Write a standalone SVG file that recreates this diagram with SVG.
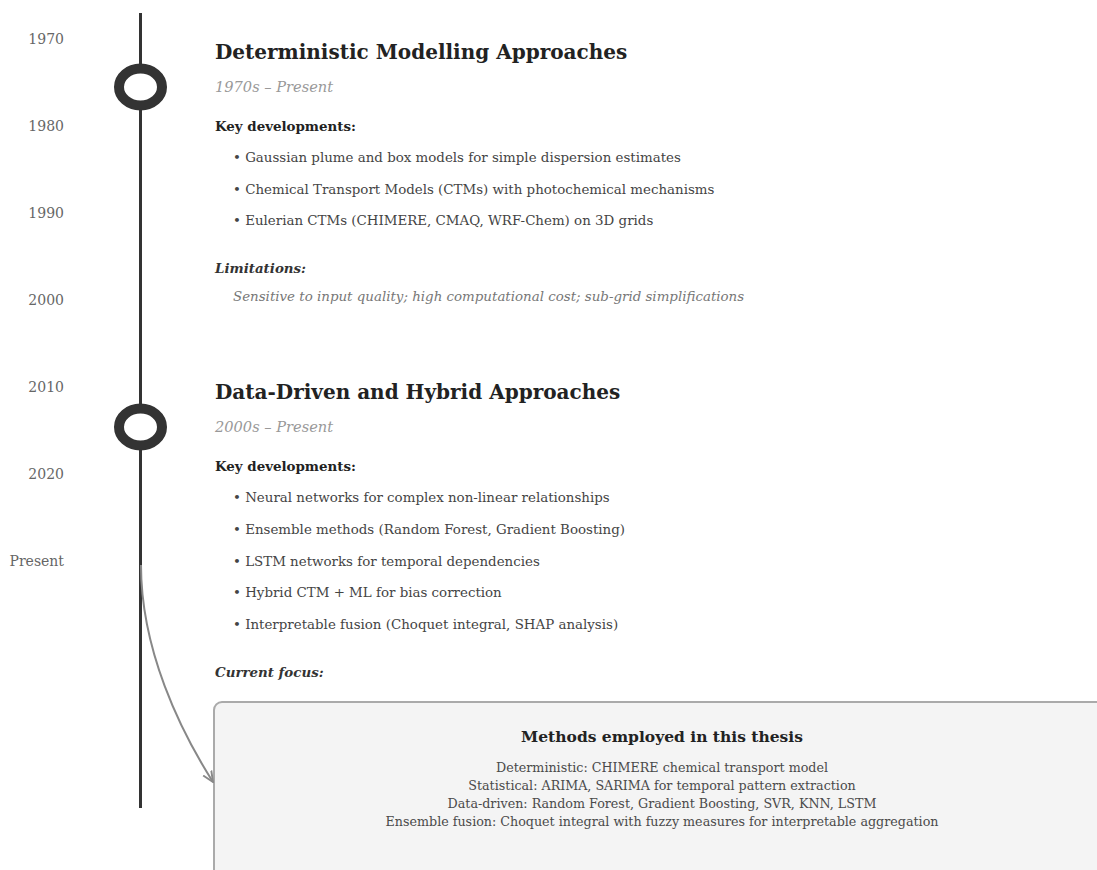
<svg xmlns="http://www.w3.org/2000/svg" width="1097" height="870" viewBox="0 0 1097 870">
  <style>
    text { font-family: "DejaVu Serif", "Liberation Serif", serif; }
    .year { font-size: 14px; fill: #666; text-anchor: end; }
    .title { font-size: 20px; font-weight: bold; fill: #222; }
    .period { font-size: 14.6px; font-style: italic; fill: #999; }
    .label { font-size: 13.4px; font-weight: bold; fill: #222; }
    .label-it { font-size: 13.4px; font-weight: bold; font-style: italic; fill: #333; }
    .item { font-size: 13.4px; fill: #444; }
    .note { font-size: 13.4px; font-style: italic; fill: #777; }
    .marker-ring { fill: #fff; stroke: #333; stroke-width: 10; }
    .axis { stroke: #333; stroke-width: 3; }
    .link { fill: none; stroke: #888; stroke-width: 2; }
    .box { fill: #f4f4f4; stroke: #aaa; stroke-width: 2; }
    .box-title { font-size: 15.5px; font-weight: bold; fill: #222; text-anchor: middle; }
    .box-line { font-size: 12.7px; fill: #4a4a4a; text-anchor: middle; }
  </style>
  <defs>
    <marker id="arrow" viewBox="0 0 10 10" refX="9" refY="5" markerWidth="6" markerHeight="6" orient="auto">
      <path d="M0,1 L9,5 L0,9" fill="none" stroke="#888" stroke-width="1.6"/>
    </marker>
  </defs>

  <rect width="1097" height="870" fill="#fff"/>

  <!-- time axis with year ticks -->
  <g id="axis">
    <line class="axis" x1="140.5" y1="13" x2="140.5" y2="808"/>
    <text class="year" x="64" y="44">1970</text>
    <text class="year" x="64" y="131">1980</text>
    <text class="year" x="64" y="218">1990</text>
    <text class="year" x="64" y="305">2000</text>
    <text class="year" x="64" y="392">2010</text>
    <text class="year" x="64" y="479">2020</text>
    <text class="year" x="64" y="566">Present</text>
  </g>

  <!-- era 1: deterministic models -->
  <g id="era-deterministic">
    <ellipse class="marker-ring" cx="140.5" cy="87" rx="21.5" ry="18.5"/>
    <text class="title" x="215" y="59">Deterministic Modelling Approaches</text>
    <text class="period" x="215" y="92">1970s – Present</text>
    <text class="label" x="215" y="131">Key developments:</text>
    <text class="item" x="233" y="162">• Gaussian plume and box models for simple dispersion estimates</text>
    <text class="item" x="233" y="194">• Chemical Transport Models (CTMs) with photochemical mechanisms</text>
    <text class="item" x="233" y="225">• Eulerian CTMs (CHIMERE, CMAQ, WRF-Chem) on 3D grids</text>
    <text class="label-it" x="215" y="273">Limitations:</text>
    <text class="note" x="233" y="301">Sensitive to input quality; high computational cost; sub-grid simplifications</text>
  </g>

  <!-- era 2: data-driven and hybrid models -->
  <g id="era-datadriven">
    <ellipse class="marker-ring" cx="140.5" cy="427" rx="21.5" ry="18.5"/>
    <text class="title" x="215" y="399">Data-Driven and Hybrid Approaches</text>
    <text class="period" x="215" y="432">2000s – Present</text>
    <text class="label" x="215" y="471">Key developments:</text>
    <text class="item" x="233" y="502">• Neural networks for complex non-linear relationships</text>
    <text class="item" x="233" y="534">• Ensemble methods (Random Forest, Gradient Boosting)</text>
    <text class="item" x="233" y="566">• LSTM networks for temporal dependencies</text>
    <text class="item" x="233" y="597">• Hybrid CTM + ML for bias correction</text>
    <text class="item" x="233" y="629">• Interpretable fusion (Choquet integral, SHAP analysis)</text>
    <text class="label-it" x="215" y="677">Current focus:</text>
  </g>

  <!-- methods summary box -->
  <g id="methods-box">
    <rect class="box" x="214" y="702" width="900" height="200" rx="8"/>
    <text class="box-title" x="662" y="742">Methods employed in this thesis</text>
    <text class="box-line" x="662" y="772">Deterministic: CHIMERE chemical transport model</text>
    <text class="box-line" x="662" y="790">Statistical: ARIMA, SARIMA for temporal pattern extraction</text>
    <text class="box-line" x="662" y="808">Data-driven: Random Forest, Gradient Boosting, SVR, KNN, LSTM</text>
    <text class="box-line" x="662" y="826">Ensemble fusion: Choquet integral with fuzzy measures for interpretable aggregation</text>
  </g>

  <!-- connectors -->
  <g id="connectors">
    <path class="link" d="M141,565 C141,650 180,730 213,782" marker-end="url(#arrow)"/>
  </g>
</svg>
